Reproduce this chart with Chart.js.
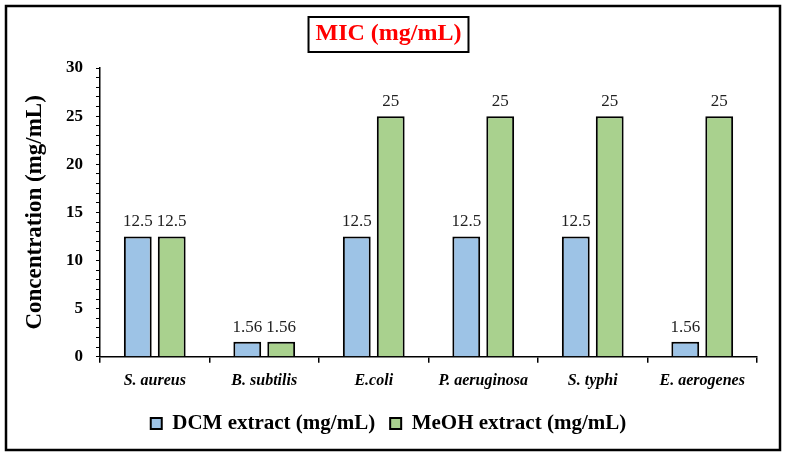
<!DOCTYPE html>
<html>
<head>
<meta charset="utf-8">
<script src="https://cdn.jsdelivr.net/npm/chart.js@4"></script>
<style>
  html, body { margin: 0; padding: 0; background: #fff; }
  #wrap { position: absolute; left: 0; top: 0; width: 786px; height: 457px; }
</style>
</head>
<body>
<div id="wrap"><canvas id="grafica"></canvas></div>
<script>
// Datos del gráfico MIC
const categorias = ['S. aureus', 'B. subtilis', 'E.coli', 'P. aeruginosa', 'S. typhi', 'E. aerogenes'];
const dcm = [12.5, 1.56, 12.5, 12.5, 12.5, 1.56];
const meoh = [12.5, 1.56, 25, 25, 25, 25];
const etiquetasY = [0, 5, 10, 15, 20, 25, 30];

const serif = '"Liberation Serif", "Times New Roman", serif';

// marco exterior + caja del título
const marco = {
  id: 'marco',
  afterDraw(chart) {
    const ctx = chart.ctx;
    ctx.save();
    ctx.strokeStyle = '#000';
    ctx.lineWidth = 2.5;
    ctx.strokeRect(6, 6, 774, 444);
    // caja del título, centrada en el texto
    const t = chart.options.plugins.title;
    ctx.font = 'bold 24px ' + serif;
    const w = ctx.measureText(t.text).width;
    const tb = chart.titleBlock;
    const cx = (tb.left + tb.right) / 2;
    ctx.lineWidth = 2;
    ctx.strokeRect(cx - w / 2 - 7, 17, w + 14, 35);
    ctx.restore();
  }
};

// valores encima de las barras
const valores = {
  id: 'valores',
  afterDatasetsDraw(chart) {
    const ctx = chart.ctx;
    ctx.save();
    ctx.font = '17px ' + serif;
    ctx.fillStyle = '#222';
    ctx.textAlign = 'center';
    ctx.textBaseline = 'alphabetic';
    chart.data.datasets.forEach((ds, i) => {
      chart.getDatasetMeta(i).data.forEach((bar, j) => {
        ctx.fillText(String(ds.data[j]), bar.x, bar.y - 10);
      });
    });
    ctx.restore();
  }
};

new Chart(document.getElementById('grafica'), {
  type: 'bar',
  data: {
    labels: categorias,
    datasets: [{
      label: 'DCM extract (mg/mL)',
      data: dcm,
      backgroundColor: '#9DC3E6',
      borderColor: '#000',
      borderWidth: 2,
      borderSkipped: 'bottom'
    }, {
      label: 'MeOH extract (mg/mL)',
      data: meoh,
      backgroundColor: '#A9D18E',
      borderColor: '#000',
      borderWidth: 2,
      borderSkipped: 'bottom'
    }]
  },
  options: {
    responsive: true,
    maintainAspectRatio: false,
    animation: false,
    datasets: {
      bar: { categoryPercentage: 0.62, barPercentage: 0.82 }
    },
    layout: { padding: { left: 20, right: 29, top: 14, bottom: 13 } },
    plugins: {
      title: {
        display: true,
        text: 'MIC (mg/mL)',
        color: '#ff0000',
        font: { family: serif, size: 24, weight: 'bold' },
        padding: { top: 5.6, bottom: 19.6 }
      },
      legend: {
        position: 'bottom',
        labels: {
          color: '#000',
          font: { family: serif, size: 21, weight: 'bold' },
          boxWidth: 11,
          boxHeight: 11,
          padding: 15
        }
      },
      tooltip: { enabled: false }
    },
    scales: {
      x: {
        border: { display: true, color: '#000', width: 1.5 },
        grid: { display: true, drawOnChartArea: false, drawTicks: true, offset: true, tickLength: 6, color: '#000', lineWidth: 1.5 },
        ticks: { color: '#000', padding: 8, font: { family: serif, size: 16, weight: 'bold', style: 'italic' } }
      },
      y: {
        min: 0,
        max: 30,
        afterFit(s) { s.width = 80; },
        title: {
          display: true,
          text: 'Concentration (mg/mL)',
          color: '#000',
          font: { family: serif, size: 23, weight: 'bold' },
          padding: { top: 1, bottom: 8 }
        },
        border: { display: true, color: '#000', width: 1.5 },
        grid: { display: true, drawOnChartArea: false, drawTicks: true, tickLength: 4, color: '#000', lineWidth: 1 },
        ticks: {
          stepSize: 1,
          autoSkip: false,
          color: '#000',
          padding: 13,
          font: { family: serif, size: 17, weight: 'bold' },
          callback: v => etiquetasY.includes(v) ? String(v) : ''
        }
      }
    }
  },
  plugins: [marco, valores]
});
</script>
</body>
</html>
